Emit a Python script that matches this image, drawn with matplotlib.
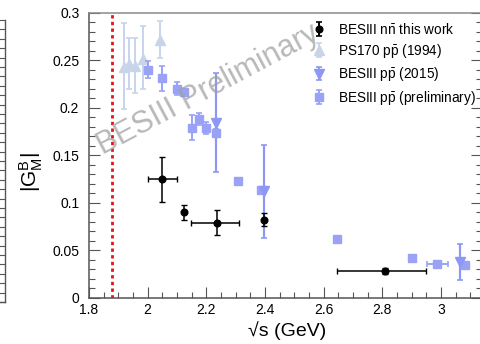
import numpy as np
import matplotlib
matplotlib.use("Agg")
import matplotlib.pyplot as plt
from matplotlib.ticker import MultipleLocator

plt.rcParams['font.family'] = ['Liberation Sans', 'DejaVu Sans']
plt.rcParams['mathtext.fontset'] = 'custom'
plt.rcParams['mathtext.rm'] = 'Liberation Sans'
plt.rcParams['mathtext.it'] = 'Liberation Sans:italic'
plt.rcParams['mathtext.bf'] = 'Liberation Sans:bold'

# BESIII n nbar (this work)
nn_x = [2.05, 2.125, 2.237, 2.396, 2.81]
nn_y = [0.1246, 0.0899, 0.0789, 0.0821, 0.0281]
nn_yerr = [0.024, 0.008, 0.013, 0.007, 0.003]
nn_xerr_lo = [0.05, 0.0, 0.09, 0.0, 0.165]
nn_xerr_hi = [0.05, 0.0, 0.073, 0.0, 0.14]

# PS170 p pbar (1994)
ps_x = [1.919, 1.937, 1.956, 1.983, 2.043]
ps_y = [0.2432, 0.2467, 0.2442, 0.2520, 0.2720]
ps_err_hi = [0.046, 0.027, 0.0295, 0.034, 0.020]
ps_err_lo = [0.044, 0.027, 0.0285, 0.032, 0.019]

# BESIII p pbar (2015)
b15_x = [2.2324, 2.396, 3.065]
b15_y = [0.1846, 0.1123, 0.0373]
b15_yerr = [0.052, 0.049, 0.019]

# BESIII p pbar (preliminary)
pre_x = [2.0, 2.05, 2.1, 2.125, 2.15, 2.175, 2.2, 2.2324, 2.3094,
         2.3864, 2.6444, 2.9, 2.988, 3.082]
pre_y = [0.2404, 0.2310, 0.2204, 0.2168, 0.1790, 0.1881, 0.1790, 0.1737,
         0.1232, 0.1140, 0.0621, 0.0421, 0.0358, 0.0347]
pre_yerr = [0.009, 0.013, 0.007, 0.003, 0.013, 0.0065, 0.006, 0.004,
            0.002, 0.003, 0.002, 0.002, 0.002, 0.002]
pre_xerr = [0, 0, 0, 0, 0, 0, 0, 0, 0, 0, 0, 0, 0.037, 0]

threshold = 1.8791  # 2 m_n

W, H = 481, 344
fig = plt.figure(figsize=(W / 100, H / 100), dpi=100)

# right edge of the neighbouring panel
axs = fig.add_axes([0, 1 - 302 / H, 5 / W, 282 / H])
axs.set_xlim(0, 1)
axs.set_ylim(0, 30)
for s in ['left', 'top']:
    axs.spines[s].set_visible(False)
for s in ['right', 'bottom']:
    axs.spines[s].set_color('#555555')
    axs.spines[s].set_linewidth(1.0)
axs.set_xticks([])
axs.yaxis.set_major_locator(MultipleLocator(1))
axs.tick_params(axis='y', which='both', left=False, right=True, labelleft=False,
                direction='in', length=5, color='#555555', width=0.8)
axs.patch.set_alpha(0)

ax = fig.add_axes([89 / W, 1 - 297.7 / H, 393 / W, 284.7 / H])
ax.set_xlim(1.8, 3.14)
ax.set_ylim(0, 0.3)

frame = '#555555'
for s in ax.spines.values():
    s.set_color(frame)
    s.set_linewidth(1.1)
ax.spines['top'].set_color('#8a8a8a')

ax.xaxis.set_major_locator(MultipleLocator(0.2))
ax.xaxis.set_minor_locator(MultipleLocator(0.05))
ax.yaxis.set_major_locator(MultipleLocator(0.05))
ax.yaxis.set_minor_locator(MultipleLocator(0.01))
ax.tick_params(which='both', direction='in', top=False, right=True,
               color=frame, width=0.8, labelsize=10)
ax.tick_params(axis='x', pad=4)
ax.tick_params(axis='y', pad=7)
ax.tick_params(which='major', length=8)
ax.tick_params(which='minor', length=4)
ax.set_xticks([1.8, 2.0, 2.2, 2.4, 2.6, 2.8, 3.0])
ax.set_xticklabels(['1.8', '2', '2.2', '2.4', '2.6', '2.8', '3'])
ax.set_yticks([0, 0.05, 0.1, 0.15, 0.2, 0.25, 0.3])
ax.set_yticklabels(['0', '0.05', '0.1', '0.15', '0.2', '0.25', '0.3'])

ax.axvline(threshold, color='#e8101a', ls=(0, (1.2, 1.2)), lw=2.0, zorder=1)

ps_col = '#c8d4ea'
b15_col = '#8e98f4'
pre_col = '#9aa2f6'

h_ps = ax.errorbar(ps_x, ps_y, yerr=[ps_err_lo, ps_err_hi], fmt='^', ms=7,
                   color=ps_col, ecolor=ps_col, elinewidth=1.4, capsize=2,
                   capthick=1.2, zorder=2)
h_pre = ax.errorbar(pre_x, pre_y, yerr=pre_yerr, xerr=pre_xerr, fmt='s', ms=5.5,
                    color=pre_col, ecolor=pre_col, elinewidth=1.4, capsize=2,
                    capthick=1.2, zorder=3)
h_b15 = ax.errorbar(b15_x, b15_y, yerr=b15_yerr, fmt='v', ms=7,
                    color=b15_col, ecolor=b15_col, elinewidth=1.6, capsize=2,
                    capthick=1.2, zorder=3)
h_nn = ax.errorbar(nn_x, nn_y, yerr=nn_yerr, xerr=[nn_xerr_lo, nn_xerr_hi],
                   fmt='o', ms=4.8, color='black', ecolor='black',
                   elinewidth=1.1, capsize=2, capthick=1.0, zorder=5)

# legend entries show only vertical error bars
def proxy(fmt, color, ms):
    return ax.errorbar([np.nan], [np.nan], yerr=[1.0], fmt=fmt, ms=ms,
                       color=color, ecolor=color, elinewidth=1.4, capsize=2,
                       capthick=1.2)

handles = [proxy('o', 'black', 4.8), proxy('^', ps_col, 7),
           proxy('v', b15_col, 7), proxy('s', pre_col, 5.5)]
labels = [r'BESIII n$\mathregular{\bar{n}}$ this work',
          r'PS170 p$\mathregular{\bar{p}}$ (1994)',
          r'BESIII p$\mathregular{\bar{p}}$ (2015)',
          r'BESIII p$\mathregular{\bar{p}}$ (preliminary)']
fig.legend(handles, labels, loc='upper left',
           bbox_to_anchor=(300 / W, 1 - 12 / H), frameon=False,
           fontsize=9.8, handlelength=1.4, handletextpad=0.7,
           labelspacing=0.4, borderpad=0.2)

fig.text(208 / W, 1 - 90 / H, 'BESIII Preliminary', rotation=28,
         rotation_mode='anchor', ha='center', va='center', fontsize=22,
         color='#a0a0a0', alpha=0.75, zorder=10)

fig.text(31 / W, 1 - 172 / H, r'|G$\mathregular{^B_M}$|', rotation=90,
         ha='center', va='center', fontsize=15)
fig.text(287 / W, 1 - 331 / H, '√s (GeV)', ha='center', va='center',
         fontsize=14)

fig.savefig('out.png', dpi=100)
